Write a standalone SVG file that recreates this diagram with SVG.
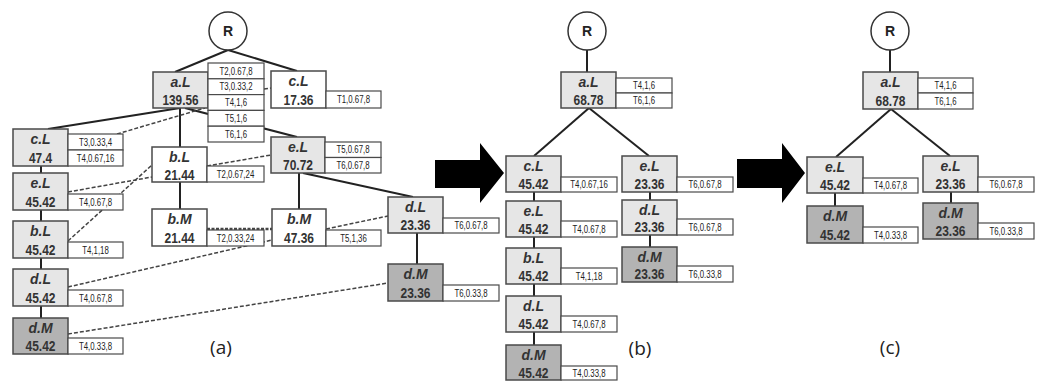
<svg xmlns="http://www.w3.org/2000/svg" width="1040" height="381" viewBox="0 0 1040 381">
<style>
.bx{stroke:#4a4a4a;stroke-width:1.5}
.lg{fill:#e6e6e6}.wh{fill:#fff}.dk{fill:#b3b3b3}
.tg{fill:#fff;stroke:#4a4a4a;stroke-width:1.2}
.rc{fill:#fff;stroke:#333;stroke-width:1.5}
.lb{font-family:"Liberation Sans",Arial,sans-serif;font-style:italic;font-weight:bold;font-size:14px;fill:#333;text-anchor:middle}
.nm{font-family:"Liberation Sans",Arial,sans-serif;font-weight:bold;font-size:15.5px;fill:#333;text-anchor:middle}
.tt{font-family:"Liberation Sans",Arial,sans-serif;font-size:10px;fill:#222;text-anchor:middle}
.rt{font-family:"Liberation Sans",Arial,sans-serif;font-weight:bold;font-size:14px;fill:#222;text-anchor:middle}
.cap{font-family:"Open Sans","Liberation Sans",sans-serif;font-size:19px;fill:#222;text-anchor:middle}
.s{stroke:#222;stroke-width:2;fill:none}
.d{stroke:#444;stroke-width:1.5;fill:none;stroke-dasharray:4 2}
.dd{stroke:#444;stroke-width:2.5;fill:none;stroke-dasharray:3 1.5}
.ar{fill:#000}
</style>

<g id="connectors">
<line class="s" x1="228" y1="50" x2="175" y2="72"/>
<line class="s" x1="228" y1="50" x2="297" y2="71"/>
<line class="s" x1="180" y1="108" x2="48" y2="129"/>
<line class="s" x1="185" y1="108" x2="297" y2="137"/>
<line class="s" x1="180" y1="108" x2="180" y2="147"/>
<line class="s" x1="180" y1="182" x2="180" y2="209"/>
<line class="s" x1="299" y1="173" x2="299" y2="209"/>
<line class="s" x1="303" y1="173" x2="413" y2="197"/>
<line class="s" x1="417" y1="233" x2="417" y2="264"/>
<line class="s" x1="41" y1="166" x2="41" y2="173"/>
<line class="s" x1="41" y1="210" x2="41" y2="221"/>
<line class="s" x1="41" y1="258" x2="41" y2="269"/>
<line class="s" x1="41" y1="306" x2="41" y2="318"/>
<line class="d" x1="117" y1="134" x2="205" y2="108"/>
<line class="d" x1="264" y1="89" x2="271" y2="88"/>
<line class="d" x1="207" y1="166" x2="271" y2="155"/>
<line class="d" x1="68" y1="192" x2="152" y2="177"/>
<line class="d" x1="68" y1="241" x2="152" y2="165"/>
<line class="d" x1="68" y1="287" x2="272" y2="240"/>
<line class="d" x1="68" y1="334" x2="388" y2="283"/>
<line class="dd" x1="207" y1="229" x2="272" y2="229"/>
<line class="d" x1="326" y1="229" x2="388" y2="216"/>
<line class="s" x1="587" y1="50" x2="587" y2="72"/>
<line class="s" x1="589" y1="108" x2="534" y2="156"/>
<line class="s" x1="589" y1="108" x2="649" y2="156"/>
<line class="s" x1="534" y1="192" x2="534" y2="201"/>
<line class="s" x1="534" y1="237" x2="534" y2="248"/>
<line class="s" x1="534" y1="284" x2="534" y2="296"/>
<line class="s" x1="534" y1="332" x2="534" y2="345"/>
<line class="s" x1="650" y1="192" x2="650" y2="200"/>
<line class="s" x1="650" y1="235" x2="650" y2="247"/>
<line class="s" x1="890" y1="50" x2="890" y2="72"/>
<line class="s" x1="891" y1="109" x2="836" y2="157"/>
<line class="s" x1="891" y1="109" x2="950" y2="156"/>
<line class="s" x1="835" y1="193" x2="835" y2="206"/>
<line class="s" x1="951" y1="192" x2="951" y2="203"/>
</g>

<g id="arrows">
<polygon class="ar" points="435,160 480,160 480,143 504,173 480,203 480,188 435,188"/>
<polygon class="ar" points="737,159 782,159 782,143 805,173 782,203 782,188 737,188"/>
</g>

<g id="a-R"><circle class="rc" cx="228" cy="31" r="19"/><text class="rt" x="228" y="36">R</text></g>

<g id="a-aL">
<rect class="bx lg" x="153" y="72" width="55" height="36"/>
<text class="lb" x="180.5" y="87">a.L</text>
<text class="nm" x="180.5" y="105" textLength="36" lengthAdjust="spacingAndGlyphs">139.56</text>
<rect class="tg" x="208" y="63" width="56" height="15.8"/>
<rect class="tg" x="208" y="78.8" width="56" height="15.8"/>
<rect class="tg" x="208" y="94.6" width="56" height="15.8"/>
<rect class="tg" x="208" y="110.4" width="56" height="15.8"/>
<rect class="tg" x="208" y="126.2" width="56" height="15.8"/>
<text class="tt" x="236" y="74.5" textLength="33" lengthAdjust="spacingAndGlyphs">T2,0.67,8</text>
<text class="tt" x="236" y="90.3" textLength="33" lengthAdjust="spacingAndGlyphs">T3,0.33,2</text>
<text class="tt" x="236" y="106.1" textLength="22" lengthAdjust="spacingAndGlyphs">T4,1,6</text>
<text class="tt" x="236" y="121.9" textLength="22" lengthAdjust="spacingAndGlyphs">T5,1,6</text>
<text class="tt" x="236" y="137.7" textLength="22" lengthAdjust="spacingAndGlyphs">T6,1,6</text>
</g>

<g id="a-cL2">
<rect class="bx wh" x="271" y="71" width="55" height="37"/>
<text class="lb" x="298.5" y="86">c.L</text>
<text class="nm" x="298.5" y="105" textLength="30" lengthAdjust="spacingAndGlyphs">17.36</text>
<rect class="tg" x="326" y="91" width="55" height="17"/>
<text class="tt" x="353.5" y="103" textLength="33" lengthAdjust="spacingAndGlyphs">T1,0.67,8</text>
</g>

<g id="a-cL1">
<rect class="bx lg" x="13" y="129" width="55" height="37"/>
<text class="lb" x="40.5" y="144">c.L</text>
<text class="nm" x="40.5" y="163" textLength="23" lengthAdjust="spacingAndGlyphs">47.4</text>
<rect class="tg" x="68" y="134" width="55" height="16"/>
<rect class="tg" x="68" y="150" width="55" height="16"/>
<text class="tt" x="95.5" y="145.5" textLength="33" lengthAdjust="spacingAndGlyphs">T3,0.33,4</text>
<text class="tt" x="95.5" y="161.5" textLength="37.5" lengthAdjust="spacingAndGlyphs">T4,0.67,16</text>
</g>

<g id="a-eL1">
<rect class="bx lg" x="13" y="173" width="55" height="37"/>
<text class="lb" x="40.5" y="188">e.L</text>
<text class="nm" x="40.5" y="207" textLength="30" lengthAdjust="spacingAndGlyphs">45.42</text>
<rect class="tg" x="68" y="194" width="55" height="16"/>
<text class="tt" x="95.5" y="205.5" textLength="33" lengthAdjust="spacingAndGlyphs">T4,0.67,8</text>
</g>

<g id="a-bL1">
<rect class="bx lg" x="13" y="221" width="55" height="37"/>
<text class="lb" x="40.5" y="236">b.L</text>
<text class="nm" x="40.5" y="255" textLength="30" lengthAdjust="spacingAndGlyphs">45.42</text>
<rect class="tg" x="68" y="242" width="55" height="16"/>
<text class="tt" x="95.5" y="253.5" textLength="26.5" lengthAdjust="spacingAndGlyphs">T4,1,18</text>
</g>

<g id="a-dL1">
<rect class="bx lg" x="13" y="269" width="55" height="37"/>
<text class="lb" x="40.5" y="284">d.L</text>
<text class="nm" x="40.5" y="303" textLength="30" lengthAdjust="spacingAndGlyphs">45.42</text>
<rect class="tg" x="68" y="290" width="55" height="16"/>
<text class="tt" x="95.5" y="301.5" textLength="33" lengthAdjust="spacingAndGlyphs">T4,0.67,8</text>
</g>

<g id="a-dM1">
<rect class="bx dk" x="13" y="318" width="55" height="36"/>
<text class="lb" x="40.5" y="333">d.M</text>
<text class="nm" x="40.5" y="351" textLength="30" lengthAdjust="spacingAndGlyphs">45.42</text>
<rect class="tg" x="68" y="338" width="55" height="16"/>
<text class="tt" x="95.5" y="349.5" textLength="33" lengthAdjust="spacingAndGlyphs">T4,0.33,8</text>
</g>

<g id="a-bL2">
<rect class="bx wh" x="152" y="147" width="55" height="35"/>
<text class="lb" x="179.5" y="162">b.L</text>
<text class="nm" x="179.5" y="180" textLength="30" lengthAdjust="spacingAndGlyphs">21.44</text>
<rect class="tg" x="207" y="166" width="57" height="16"/>
<text class="tt" x="235.5" y="177.5" textLength="37.5" lengthAdjust="spacingAndGlyphs">T2,0.67,24</text>
</g>

<g id="a-eL2">
<rect class="bx lg" x="271" y="137" width="54" height="36"/>
<text class="lb" x="298" y="152">e.L</text>
<text class="nm" x="298" y="170" textLength="30" lengthAdjust="spacingAndGlyphs">70.72</text>
<rect class="tg" x="325" y="142" width="56" height="15.5"/>
<rect class="tg" x="325" y="157.5" width="56" height="15.5"/>
<text class="tt" x="353" y="153.3" textLength="33" lengthAdjust="spacingAndGlyphs">T5,0.67,8</text>
<text class="tt" x="353" y="168.8" textLength="33" lengthAdjust="spacingAndGlyphs">T6,0.67,8</text>
</g>

<g id="a-bM1">
<rect class="bx wh" x="152" y="209" width="55" height="37"/>
<text class="lb" x="179.5" y="224">b.M</text>
<text class="nm" x="179.5" y="243" textLength="30" lengthAdjust="spacingAndGlyphs">21.44</text>
<rect class="tg" x="207" y="230" width="57" height="16"/>
<text class="tt" x="235.5" y="241.5" textLength="37.5" lengthAdjust="spacingAndGlyphs">T2,0.33,24</text>
</g>

<g id="a-bM2">
<rect class="bx wh" x="272" y="209" width="54" height="37"/>
<text class="lb" x="299" y="224">b.M</text>
<text class="nm" x="299" y="243" textLength="30" lengthAdjust="spacingAndGlyphs">47.36</text>
<rect class="tg" x="326" y="230" width="55" height="16"/>
<text class="tt" x="353.5" y="241.5" textLength="26.5" lengthAdjust="spacingAndGlyphs">T5,1,36</text>
</g>

<g id="a-dL2">
<rect class="bx lg" x="388" y="197" width="55" height="36"/>
<text class="lb" x="415.5" y="212">d.L</text>
<text class="nm" x="415.5" y="230" textLength="30" lengthAdjust="spacingAndGlyphs">23.36</text>
<rect class="tg" x="443" y="218" width="56" height="15"/>
<text class="tt" x="471" y="229" textLength="33" lengthAdjust="spacingAndGlyphs">T6,0.67,8</text>
</g>

<g id="a-dM2">
<rect class="bx dk" x="388" y="264" width="55" height="37"/>
<text class="lb" x="415.5" y="279">d.M</text>
<text class="nm" x="415.5" y="298" textLength="30" lengthAdjust="spacingAndGlyphs">23.36</text>
<rect class="tg" x="443" y="285" width="56" height="16"/>
<text class="tt" x="471" y="296.5" textLength="33" lengthAdjust="spacingAndGlyphs">T6,0.33,8</text>
</g>

<text class="cap" x="221" y="354">(a)</text>

<g id="b-R"><circle class="rc" cx="587" cy="31" r="19"/><text class="rt" x="587" y="36">R</text></g>

<g id="b-aL">
<rect class="bx lg" x="561" y="72" width="55" height="36"/>
<text class="lb" x="588.5" y="87">a.L</text>
<text class="nm" x="588.5" y="105" textLength="30" lengthAdjust="spacingAndGlyphs">68.78</text>
<rect class="tg" x="616" y="78" width="56" height="15"/>
<rect class="tg" x="616" y="93" width="56" height="15"/>
<text class="tt" x="644" y="89" textLength="22" lengthAdjust="spacingAndGlyphs">T4,1,6</text>
<text class="tt" x="644" y="104" textLength="22" lengthAdjust="spacingAndGlyphs">T6,1,6</text>
</g>

<g id="b-cL">
<rect class="bx lg" x="506" y="156" width="55" height="36"/>
<text class="lb" x="533.5" y="171">c.L</text>
<text class="nm" x="533.5" y="189" textLength="30" lengthAdjust="spacingAndGlyphs">45.42</text>
<rect class="tg" x="561" y="177" width="56" height="15"/>
<text class="tt" x="589" y="188" textLength="37.5" lengthAdjust="spacingAndGlyphs">T4,0.67,16</text>
</g>

<g id="b-eL1">
<rect class="bx lg" x="506" y="201" width="55" height="36"/>
<text class="lb" x="533.5" y="216">e.L</text>
<text class="nm" x="533.5" y="234" textLength="30" lengthAdjust="spacingAndGlyphs">45.42</text>
<rect class="tg" x="561" y="221" width="56" height="16"/>
<text class="tt" x="589" y="232.5" textLength="33" lengthAdjust="spacingAndGlyphs">T4,0.67,8</text>
</g>

<g id="b-bL">
<rect class="bx lg" x="506" y="248" width="55" height="36"/>
<text class="lb" x="533.5" y="263">b.L</text>
<text class="nm" x="533.5" y="281" textLength="30" lengthAdjust="spacingAndGlyphs">45.42</text>
<rect class="tg" x="561" y="268" width="56" height="16"/>
<text class="tt" x="589" y="279.5" textLength="26.5" lengthAdjust="spacingAndGlyphs">T4,1,18</text>
</g>

<g id="b-dL1">
<rect class="bx lg" x="506" y="296" width="55" height="36"/>
<text class="lb" x="533.5" y="311">d.L</text>
<text class="nm" x="533.5" y="329" textLength="30" lengthAdjust="spacingAndGlyphs">45.42</text>
<rect class="tg" x="561" y="316" width="56" height="16"/>
<text class="tt" x="589" y="327.5" textLength="33" lengthAdjust="spacingAndGlyphs">T4,0.67,8</text>
</g>

<g id="b-dM1">
<rect class="bx dk" x="506" y="345" width="55" height="35"/>
<text class="lb" x="533.5" y="360">d.M</text>
<text class="nm" x="533.5" y="378" textLength="30" lengthAdjust="spacingAndGlyphs">45.42</text>
<rect class="tg" x="561" y="366" width="56" height="14"/>
<text class="tt" x="589" y="376.5" textLength="33" lengthAdjust="spacingAndGlyphs">T4,0.33,8</text>
</g>

<g id="b-eL2">
<rect class="bx lg" x="622" y="156" width="55" height="36"/>
<text class="lb" x="649.5" y="171">e.L</text>
<text class="nm" x="649.5" y="189" textLength="30" lengthAdjust="spacingAndGlyphs">23.36</text>
<rect class="tg" x="677" y="177" width="56" height="15"/>
<text class="tt" x="705" y="188" textLength="33" lengthAdjust="spacingAndGlyphs">T6,0.67,8</text>
</g>

<g id="b-dL2">
<rect class="bx lg" x="622" y="200" width="55" height="35"/>
<text class="lb" x="649.5" y="215">d.L</text>
<text class="nm" x="649.5" y="232" textLength="30" lengthAdjust="spacingAndGlyphs">23.36</text>
<rect class="tg" x="677" y="219" width="56" height="16"/>
<text class="tt" x="705" y="230.5" textLength="33" lengthAdjust="spacingAndGlyphs">T6,0.67,8</text>
</g>

<g id="b-dM2">
<rect class="bx dk" x="622" y="247" width="55" height="35"/>
<text class="lb" x="649.5" y="262">d.M</text>
<text class="nm" x="649.5" y="279" textLength="30" lengthAdjust="spacingAndGlyphs">23.36</text>
<rect class="tg" x="677" y="266" width="56" height="16"/>
<text class="tt" x="705" y="277.5" textLength="33" lengthAdjust="spacingAndGlyphs">T6,0.33,8</text>
</g>

<text class="cap" x="640" y="355">(b)</text>

<g id="c-R"><circle class="rc" cx="890" cy="31" r="19"/><text class="rt" x="890" y="36">R</text></g>

<g id="c-aL">
<rect class="bx lg" x="863" y="72" width="55" height="37"/>
<text class="lb" x="890.5" y="87">a.L</text>
<text class="nm" x="890.5" y="106" textLength="30" lengthAdjust="spacingAndGlyphs">68.78</text>
<rect class="tg" x="918" y="78" width="55" height="15"/>
<rect class="tg" x="918" y="93" width="55" height="16"/>
<text class="tt" x="945.5" y="89" textLength="22" lengthAdjust="spacingAndGlyphs">T4,1,6</text>
<text class="tt" x="945.5" y="104.5" textLength="22" lengthAdjust="spacingAndGlyphs">T6,1,6</text>
</g>

<g id="c-eL1">
<rect class="bx lg" x="807" y="157" width="56" height="36"/>
<text class="lb" x="835" y="172">e.L</text>
<text class="nm" x="835" y="190" textLength="30" lengthAdjust="spacingAndGlyphs">45.42</text>
<rect class="tg" x="863" y="178" width="55" height="15"/>
<text class="tt" x="890.5" y="189" textLength="33" lengthAdjust="spacingAndGlyphs">T4,0.67,8</text>
</g>

<g id="c-eL2">
<rect class="bx lg" x="923" y="156" width="55" height="36"/>
<text class="lb" x="950.5" y="171">e.L</text>
<text class="nm" x="950.5" y="189" textLength="30" lengthAdjust="spacingAndGlyphs">23.36</text>
<rect class="tg" x="978" y="177" width="56" height="15"/>
<text class="tt" x="1006" y="188" textLength="33" lengthAdjust="spacingAndGlyphs">T6,0.67,8</text>
</g>

<g id="c-dM1">
<rect class="bx dk" x="807" y="206" width="56" height="37"/>
<text class="lb" x="835" y="221">d.M</text>
<text class="nm" x="835" y="240" textLength="30" lengthAdjust="spacingAndGlyphs">45.42</text>
<rect class="tg" x="863" y="227" width="55" height="16"/>
<text class="tt" x="890.5" y="238.5" textLength="33" lengthAdjust="spacingAndGlyphs">T4,0.33,8</text>
</g>

<g id="c-dM2">
<rect class="bx dk" x="923" y="203" width="55" height="36"/>
<text class="lb" x="950.5" y="218">d.M</text>
<text class="nm" x="950.5" y="236" textLength="30" lengthAdjust="spacingAndGlyphs">23.36</text>
<rect class="tg" x="978" y="223" width="56" height="16"/>
<text class="tt" x="1006" y="234.5" textLength="33" lengthAdjust="spacingAndGlyphs">T6,0.33,8</text>
</g>

<text class="cap" x="890" y="354">(c)</text>
</svg>
